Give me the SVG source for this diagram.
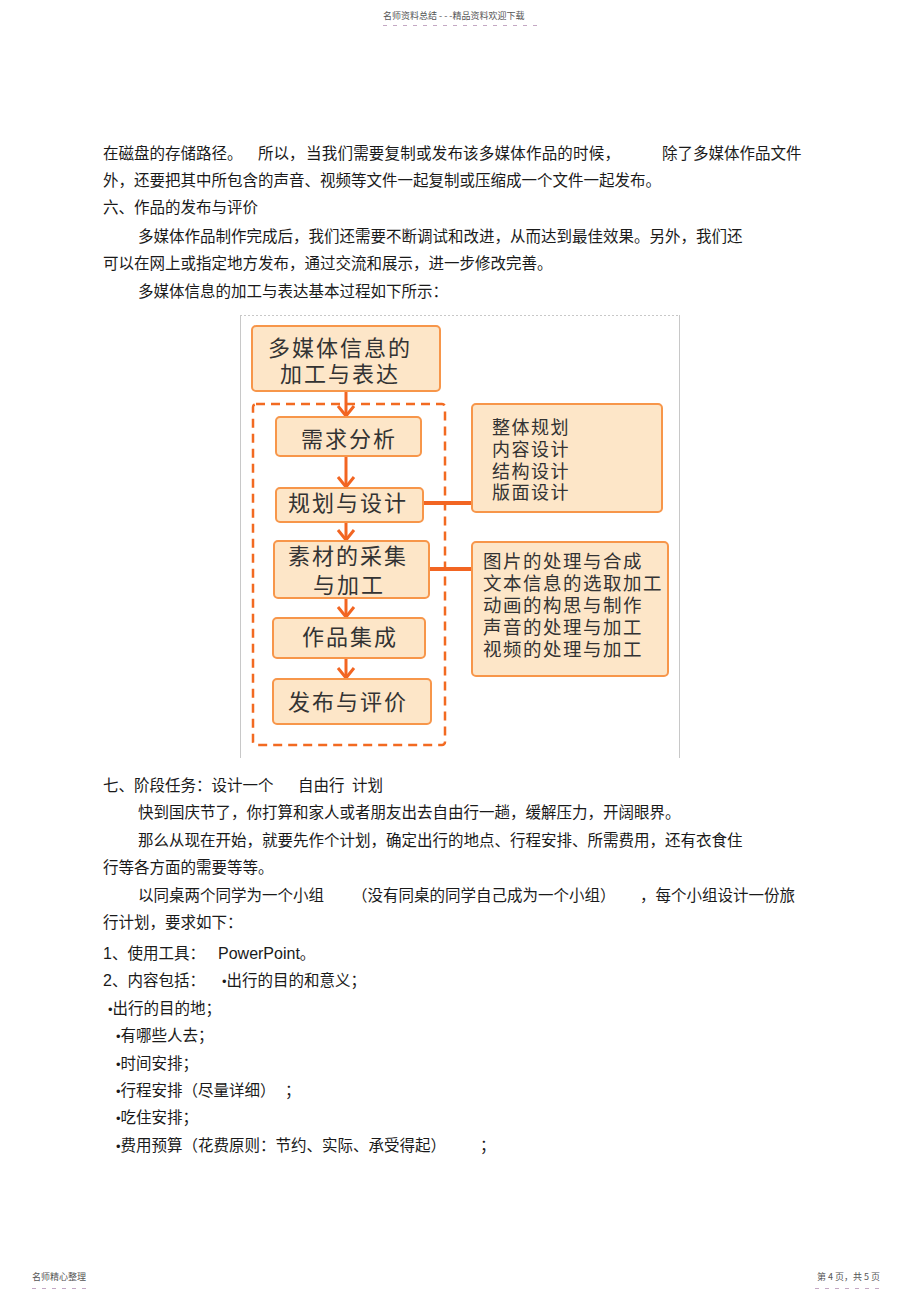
<svg xmlns="http://www.w3.org/2000/svg" width="920" height="1301" viewBox="0 0 920 1301">
<style>
.t{font-family:"Noto Sans CJK SC","Liberation Sans",sans-serif;font-size:15.5px;fill:#1a1a1a}
.l{font-family:"Liberation Sans","Noto Sans CJK SC",sans-serif;font-size:16px;fill:#1a1a1a}
.bu{font-family:"Liberation Sans",sans-serif;font-size:13px;fill:#1a1a1a}
.hd{font-family:"Noto Sans CJK SC",sans-serif;font-size:9px;fill:#555}
.dash{stroke:#c4a8c4;stroke-width:1;stroke-dasharray:4 6}
.frame{stroke:#c8c8c8;stroke-width:1;fill:none}
.box{fill:#fde6c8;stroke:#f7964a;stroke-width:2}
.grp{fill:none;stroke:#f26a21;stroke-width:2.5;stroke-dasharray:9 6}
.bt{font-family:"Noto Sans CJK SC",sans-serif;font-size:22px;letter-spacing:2px;fill:#333}
.st{font-family:"Noto Sans CJK SC",sans-serif;font-size:18px;letter-spacing:1.5px;fill:#333}
.s2{font-family:"Noto Sans CJK SC",sans-serif;font-size:18.5px;letter-spacing:1.5px;fill:#333}
.arr{stroke:#f26522;stroke-width:3;fill:none}
.link{stroke:#f26522;stroke-width:4}
</style>
<defs>
<marker id="chev" viewBox="-13 -10 15 20" refX="0" refY="0" markerWidth="15" markerHeight="20" markerUnits="userSpaceOnUse" orient="auto">
<path d="M -10 -8 L 0 0 L -10 8" fill="none" stroke="#f26522" stroke-width="3"/>
</marker>
</defs>

<g id="header">
<text class="hd" x="383" y="19">名师资料总结 - - -精品资料欢迎下载</text>
<line class="dash" x1="383" y1="25.5" x2="537" y2="25.5"/>
</g>

<g id="body-top">
<text class="t" x="103" y="159">在磁盘的存储路径。</text>
<text class="t" x="258" y="159">所以，</text>
<text class="t" x="306" y="159" textLength="314" lengthAdjust="spacing">当我们需要复制或发布该多媒体作品的时候，</text>
<text class="t" x="662" y="159">除了多媒体作品文件</text>
<text class="t" x="103" y="186">外，还要把其中所包含的声音、视频等文件一起复制或压缩成一个文件一起发布。</text>
<text class="t" x="103" y="213">六、作品的发布与评价</text>
<text class="t" x="138" y="242">多媒体作品制作完成后，我们还需要不断调试和改进，从而达到最佳效果。另外，我们还</text>
<text class="t" x="103" y="269">可以在网上或指定地方发布，通过交流和展示，进一步修改完善。</text>
<text class="t" x="138" y="297">多媒体信息的加工与表达基本过程如下所示：</text>
</g>

<g id="figure-frame">
<line class="frame" x1="240" y1="315.5" x2="680" y2="315.5" stroke-dasharray="2 2"/>
<line class="frame" x1="240.5" y1="315" x2="240.5" y2="758"/>
<line class="frame" x1="679.5" y1="315" x2="679.5" y2="758"/>
</g>

<g id="group-dashed">
<rect class="grp" x="253" y="404" width="192" height="341" rx="3"/>
</g>

<g id="connectors">
<line class="arr" x1="346" y1="391" x2="346" y2="416" marker-end="url(#chev)"/>
<line class="arr" x1="346" y1="456" x2="346" y2="487" marker-end="url(#chev)"/>
<line class="arr" x1="346" y1="522" x2="346" y2="540" marker-end="url(#chev)"/>
<line class="arr" x1="346" y1="598" x2="346" y2="617" marker-end="url(#chev)"/>
<line class="arr" x1="346" y1="658" x2="346" y2="678" marker-end="url(#chev)"/>
<line class="link" x1="423" y1="503" x2="473" y2="503"/>
<line class="link" x1="429" y1="569" x2="473" y2="569"/>
</g>

<g id="node-start">
<rect class="box" x="252" y="326" width="188" height="65" rx="4"/>
<text class="bt"><tspan x="268" y="356">多媒体信息的</tspan><tspan x="280" y="382">加工与表达</tspan></text>
</g>

<g id="node-analysis">
<rect class="box" x="276" y="417" width="145" height="39" rx="4"/>
<text class="bt" x="301" y="447">需求分析</text>
</g>

<g id="node-plan">
<rect class="box" x="276" y="488" width="147" height="34" rx="4"/>
<text class="bt" x="288" y="511">规划与设计</text>
</g>

<g id="node-material">
<rect class="box" x="274" y="541" width="155" height="57" rx="4"/>
<text class="bt"><tspan x="288" y="564">素材的采集</tspan><tspan x="313" y="593">与加工</tspan></text>
</g>

<g id="node-integrate">
<rect class="box" x="273" y="618" width="152" height="40" rx="4"/>
<text class="bt" x="302" y="645">作品集成</text>
</g>

<g id="node-publish">
<rect class="box" x="273" y="679" width="158" height="45" rx="4"/>
<text class="bt" x="288" y="710">发布与评价</text>
</g>

<g id="node-plan-detail">
<rect class="box" x="472" y="404" width="190" height="108" rx="4"/>
<text class="st"><tspan x="492" y="434">整体规划</tspan><tspan x="492" y="456">内容设计</tspan><tspan x="492" y="478">结构设计</tspan><tspan x="492" y="499">版面设计</tspan></text>
</g>

<g id="node-material-detail">
<rect class="box" x="472" y="542" width="196" height="134" rx="4"/>
<text class="s2"><tspan x="483" y="568">图片的处理与合成</tspan><tspan x="483" y="590">文本信息的选取加工</tspan><tspan x="483" y="612">动画的构思与制作</tspan><tspan x="483" y="634">声音的处理与加工</tspan><tspan x="483" y="656">视频的处理与加工</tspan></text>
</g>

<g id="body-bottom">
<text class="t" x="103" y="791">七、阶段任务：设计一个</text>
<text class="t" x="298" y="791">自由行</text>
<text class="t" x="352" y="791">计划</text>
<text class="t" x="138" y="818">快到国庆节了，你打算和家人或者朋友出去自由行一趟，缓解压力，开阔眼界。</text>
<text class="t" x="138" y="846">那么从现在开始，就要先作个计划，确定出行的地点、行程安排、所需费用，还有衣食住</text>
<text class="t" x="103" y="873">行等各方面的需要等等。</text>
<text class="t" x="138" y="901">以同桌两个同学为一个小组</text>
<text class="t" x="352" y="901">（没有同桌的同学自己成为一个小组）</text>
<text class="t" x="640" y="901">，每个小组设计一份旅</text>
<text class="t" x="103" y="928">行计划，要求如下：</text>
<text class="t" x="103" y="959"><tspan class="l">1</tspan>、使用工具：</text>
<text class="l" x="218" y="959">PowerPoint<tspan class="t">。</tspan></text>
<text class="t" x="103" y="986"><tspan class="l">2</tspan>、内容包括：</text>
<text class="t" x="222" y="986"><tspan class="bu">•</tspan>出行的目的和意义；</text>
<text class="t" x="108" y="1014"><tspan class="bu">•</tspan>出行的目的地；</text>
<text class="t" x="116" y="1041"><tspan class="bu">•</tspan>有哪些人去；</text>
<text class="t" x="116" y="1069"><tspan class="bu">•</tspan>时间安排；</text>
<text class="t" x="116" y="1096"><tspan class="bu">•</tspan>行程安排（尽量详细）</text>
<text class="t" x="285" y="1096">；</text>
<text class="t" x="116" y="1123"><tspan class="bu">•</tspan>吃住安排；</text>
<text class="t" x="116" y="1151"><tspan class="bu">•</tspan>费用预算（花费原则：节约、实际、承受得起）</text>
<text class="t" x="480" y="1151">；</text>
</g>

<g id="footer">
<text class="hd" x="32" y="1280">名师精心整理</text>
<line class="dash" x1="32" y1="1288.5" x2="92" y2="1288.5"/>
<text class="hd" x="880" y="1280" text-anchor="end">第 4 页，共 5 页</text>
<line class="dash" x1="815" y1="1288.5" x2="882" y2="1288.5"/>
</g>
</svg>
